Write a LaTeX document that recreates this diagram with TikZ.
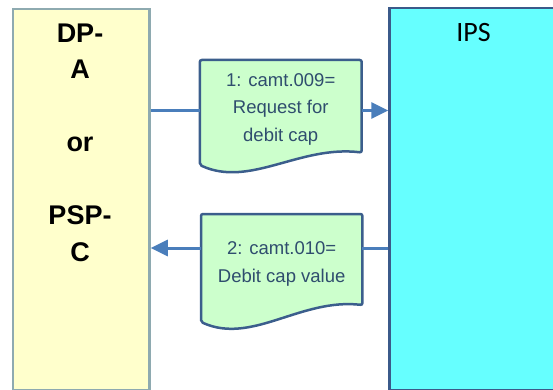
\documentclass[tikz,border=0pt]{standalone}
\usepackage{fontspec}
\setmainfont{Liberation Sans}
\newfontfamily\ipsfont{Carlito}
\usetikzlibrary{arrows.meta,calc,backgrounds}
\definecolor{dpfill}{HTML}{FFFFCC}
\definecolor{dpline}{HTML}{8EAAB0}
\definecolor{ipsfill}{HTML}{66FFFF}
\definecolor{ipsline}{HTML}{3B5A8A}
\definecolor{docfill}{HTML}{CCFFCC}
\definecolor{docline}{HTML}{3B5E8C}
\definecolor{doctext}{HTML}{2F4D6E}
\definecolor{conncol}{HTML}{4A7EBB}
\begin{document}
\begin{tikzpicture}[x=1pt,y=-1pt,
  party/.style={line width=2.5pt, anchor=north west, inner sep=0},
  doctxt/.style={anchor=north west, inner sep=0, align=center, text=doctext,
    font=\fontsize{18.5}{27.5}\selectfont},
  docedge/.style={draw=docline, fill=docfill, line width=2.5pt, rounded corners=2pt},
  connline/.style={draw=conncol, line width=3pt},
  linkarrow/.style={-{Triangle[length=17pt,width=16pt]}}]
\useasboundingbox (0,0) rectangle (553,390);
\clip (0,0) rectangle (553,390);

% parties
\node[party, draw=dpline, fill=dpfill, minimum width=136.8pt, minimum height=380.5pt] (dpa) at (11.5,8) {};
\node[party, draw=ipsline, fill=ipsfill, minimum width=220pt, minimum height=382pt] (ips) at (388.3,7) {};

\node[anchor=north, inner sep=0, align=center, font=\bfseries\fontsize{27}{36.5}\selectfont] (dpatext) at (80,23.7)
  {DP-\\A\\[36.5pt]or\\[36.5pt]PSP-\\C};
\node[anchor=base, inner sep=0, font=\ipsfont\fontsize{28}{30}\selectfont] (ipstext) at (473.5,42) {IPS};

% messages
\node[doctxt, minimum width=161.5pt, minimum height=98pt] (d1) at (199.8,60) {1: camt.009=\\Request for\\debit cap};
\node[doctxt, minimum width=161pt, minimum height=100pt] (d2) at (201,214) {2: camt.010=\\Debit cap value};

\begin{scope}[on background layer]
\draw[docedge] (d1.north west) -- (d1.north east) -- ($(d1.north east)+(0,92.5)$)
  .. controls ($(d1.north east)+(-62,85)$) and ($(d1.north west)+(50,128)$) .. ($(d1.north west)+(0,105)$) -- cycle;
\draw[docedge] (d2.north west) -- (d2.north east) -- ($(d2.north east)+(0,91)$)
  .. controls ($(d2.north east)+(-62,84)$) and ($(d2.north west)+(51,131)$) .. ($(d2.north west)+(0,108)$) -- cycle;
\end{scope}

% connectors
\coordinate (r1) at (0,110.5);
\coordinate (r2) at (0,248);
\draw[connline] (dpa.east |- r1) -- (d1.west |- r1);
\draw[connline, linkarrow] (d1.east |- r1) -- (ips.west |- r1);
\draw[connline] (ips.west |- r2) -- (d2.east |- r2);
\draw[connline, linkarrow] (d2.west |- r2) -- (dpa.east |- r2);
\end{tikzpicture}
\end{document}
